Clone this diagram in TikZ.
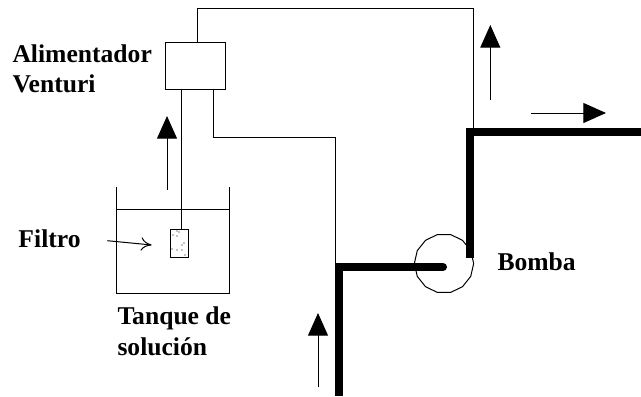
\documentclass[tikz,border=0pt]{standalone}
\usepackage{fontspec}
\setmainfont{Liberation Serif}
\usetikzlibrary{arrows.meta,shapes.geometric}
\tikzset{every picture/.style={line width=0.75pt}}
\tikzset{
  pipe/.style={line width=6pt,line join=miter},
  flow/.style={-{Triangle[length=17pt,width=15pt]}},
  label/.style={anchor=base west,inner sep=0pt,font=\bfseries\fontsize{19.2}{19.2}\selectfont},
  speck/.style={fill=black,inner sep=0pt,minimum size=0.8pt,circle}
}
\begin{document}
\begin{tikzpicture}[x=0.75pt,y=0.75pt,yscale=-1,xscale=1]
  \useasboundingbox (0,0) rectangle (641,396);

  %Shape: Rectangle Venturi
  \node [draw,inner sep=0pt,minimum width=44.5pt,minimum height=35.5pt] (venturi) at (195.4,65.8) {};
  %Shape: Rectangle Filter
  \node [draw,inner sep=0pt,minimum width=14pt,minimum height=20.6pt] (filtro) at (179.4,243.3) {};
  %Shape: Polygon Pump
  \node [draw,regular polygon,regular polygon sides=14,inner sep=0pt,minimum size=44.5pt] (bomba) at (444,263.5) {};

  %Coordinates
  \coordinate (topleft) at (197.5,8);
  \coordinate (topright) at (473.5,8);
  \coordinate (outlet) at (473.5,130);
  \coordinate (feed) at (213,137);
  \coordinate (feedend) at (335,263);
  \coordinate (suction) at (339,396);
  \coordinate (suctionbend) at (339,267);
  \coordinate (suctionend) at (443,267);
  \coordinate (discharge) at (470,258);
  \coordinate (dischargebend) at (470,132);
  \coordinate (dischargeend) at (641,132);
  \coordinate (tubetop) at (181.5,89);

  %Straight Lines thin tubes
  \draw (topleft |- venturi.north) -- (topleft) -- (topright) -- (outlet);
  \draw (feed |- venturi.south) -- (feed) -| (feedend);
  \draw (tubetop |- venturi.south) -- (tubetop |- filtro.north);

  %Straight Lines thick pipes
  \draw [pipe] (discharge) -- (dischargebend) -- (dischargeend);
  \draw [pipe] (suction) -- (suctionbend) -- (suctionend);
  \fill (suctionend) circle (4);

  %Shape: Tank
  \draw (116,187) -- (116,293) -- (229,293) -- (229,187);
  \draw (116,209.5) -- (229,209.5);

  %Specks in the filter
  \foreach \x/\y in {177/231,173/235,177/236,172/249,177/250,182/250,185/255,179/232,182/245,184/243}
    \node [speck] at (\x,\y) {};

  %Arrows
  \draw [flow] (167,190) -- (167,116);
  \draw [flow] (490.3,100) -- (490.3,25);
  \draw [flow] (531,113) -- (606,113);
  \draw [flow] (318,387) -- (318,313);
  \draw [-{To[length=8pt,width=10pt]}] (107.3,240.7) -- (151.7,245);

  % Text Node
  \node [label] (alimentador) at (12,62) {Alimentador};
  % Text Node
  \node [label] (venturilabel) at (12,92) {Venturi};
  % Text Node
  \node [label] (filtrolabel) at (18,247) {Filtro};
  % Text Node
  \node [label] (tanque) at (117,324.5) {Tanque de};
  % Text Node
  \node [label] (solucion) at (117,355) {solución};
  % Text Node
  \node [label] (bombalabel) at (497,270) {Bomba};
\end{tikzpicture}
\end{document}
